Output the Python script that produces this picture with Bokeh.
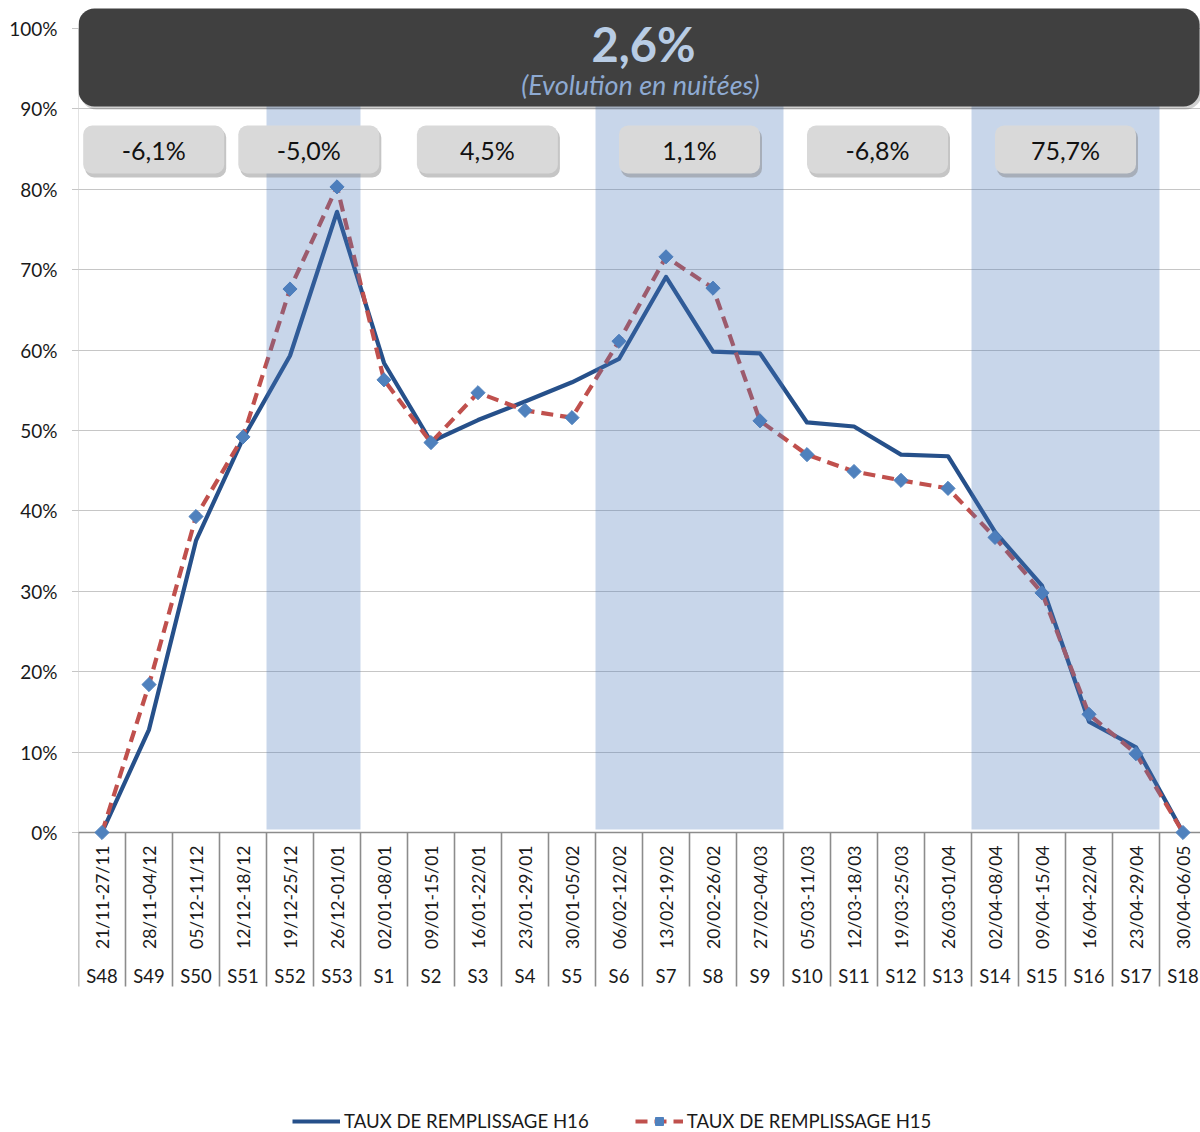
import numpy as np
from bokeh.plotting import figure
from bokeh.models import (ColumnDataSource, Range1d, FixedTicker, PrintfTickFormatter,
                          Legend, LegendItem)
from bokeh.core.properties import value
from bokeh.embed import file_html
from bokeh.resources import INLINE

# ---------------- data ----------------
weeks = ["S48", "S49", "S50", "S51", "S52", "S53", "S1", "S2", "S3", "S4", "S5", "S6",
         "S7", "S8", "S9", "S10", "S11", "S12", "S13", "S14", "S15", "S16", "S17", "S18"]
dates = ["21/11-27/11", "28/11-04/12", "05/12-11/12", "12/12-18/12", "19/12-25/12",
         "26/12-01/01", "02/01-08/01", "09/01-15/01", "16/01-22/01", "23/01-29/01",
         "30/01-05/02", "06/02-12/02", "13/02-19/02", "20/02-26/02", "27/02-04/03",
         "05/03-11/03", "12/03-18/03", "19/03-25/03", "26/03-01/04", "02/04-08/04",
         "09/04-15/04", "16/04-22/04", "23/04-29/04", "30/04-06/05"]
h16 = [0, 12.8, 36.3, 49.0, 59.3, 77.2, 58.4, 48.6, 51.3, 53.6, 56.0, 58.9,
       69.1, 59.8, 59.6, 51.0, 50.5, 47.0, 46.8, 37.4, 30.7, 13.8, 10.6, 0]
h15 = [0, 18.4, 39.3, 49.2, 67.6, 80.3, 56.3, 48.5, 54.7, 52.5, 51.6, 61.1,
       71.6, 67.7, 51.2, 47.0, 44.9, 43.8, 42.8, 36.7, 29.8, 14.7, 9.8, 0]
shaded_periods = [("S52", "S53"), ("S6", "S9"), ("S14", "S17")]
period_labels = ["-6,1%", "-5,0%", "4,5%", "1,1%", "-6,8%", "75,7%"]
total_label = "2,6%"
subtitle = "(Evolution en nuitées)"
y_ticks = [0, 10, 20, 30, 40, 50, 60, 70, 80, 90, 100]
series_names = ["TAUX DE REMPLISSAGE H16", "TAUX DE REMPLISSAGE H15"]

# ---------------- layout / style ----------------
W, H = 1200, 1132
LEFT = 78
PX_X = 47.0      # pixels per category
PX_Y = 8.04      # pixels per percent
Y0 = 832         # page y of 0%
FONT = "Lato"
box_centers = [1.6, 4.9, 8.7, 13.0, 17.0, 21.0]
box_width = 3.0


def py(page_y):
    return (Y0 - page_y) / PX_Y


def px(page_x):
    return (page_x - LEFT) / PX_X


x_end = (W - LEFT) / PX_X
y_top = py(0)
y_bot = py(H)

p = figure(width=W, height=H, output_backend="svg", toolbar_location=None,
           x_range=Range1d(0, x_end), y_range=Range1d(y_bot, y_top),
           x_axis_location=None, min_border_left=LEFT, min_border_right=0,
           min_border_top=0, min_border_bottom=0, outline_line_color=None,
           background_fill_color="white", border_fill_color="white")

# y axis & grid
ticker = FixedTicker(ticks=y_ticks)
yax = p.yaxis[0]
yax.ticker = ticker
yax.formatter = PrintfTickFormatter(format="%d%%")
yax.axis_line_color = None
yax.major_tick_in = 0
yax.major_tick_out = 6
yax.major_tick_line_color = "#8c8c8c"
yax.major_tick_line_dash = "1 1"
yax.minor_tick_line_color = None
yax.major_label_standoff = 15
yax.major_label_text_font = FONT
yax.major_label_text_font_size = "19px"
yax.major_label_text_color = "#1a1a1a"
p.ygrid.ticker = ticker
p.ygrid.grid_line_color = "#8c8c8c"
p.ygrid.grid_line_dash = "1 1"
p.ygrid.grid_line_width = 1
for g in p.xgrid:
    g.visible = False

n = len(weeks)
centers = [i + 0.5 for i in range(n)]
bounds = list(range(n + 1))

# left dotted axis, bottom axis and separators
p.segment(x0=[0], y0=[0], x1=[0], y1=[100], line_color="#8c8c8c", line_dash="1 1", line_width=1)
p.segment(x0=bounds, y0=[0] * len(bounds), x1=bounds, y1=[py(986)] * len(bounds),
          line_color="#8c8c8c", line_width=1.6)
p.segment(x0=[0], y0=[0], x1=[n], y1=[0], line_color="#8c8c8c", line_width=1.6)

# series
src = ColumnDataSource(dict(x=centers, h16=h16, h15=h15))
l16 = p.line("x", "h16", source=src, line_color="#26508a", line_width=4.2, line_join="round")
l15 = p.line("x", "h15", source=src, line_color="#c0504d", line_width=4.2, line_dash="12 7")
s15 = p.scatter("x", "h15", source=src, marker="square", size=10, angle=np.pi / 4,
                fill_color="#4f81bd", line_color="#4f81bd")

# shaded periods (translucent overlay)
b_left = [weeks.index(a) for a, b in shaded_periods]
b_right = [weeks.index(b) + 1 for a, b in shaded_periods]
p.quad(left=b_left, right=b_right, bottom=py(829), top=100,
       fill_color="#4876b9", fill_alpha=0.3, line_color=None)

# x labels
p.text(x=centers, y=[py(845)] * n, text=dates, angle=np.pi / 2,
       text_align="right", text_baseline="middle", text_font=value(FONT),
       text_font_size="17.5px", text_color="#1a1a1a")
p.text(x=centers, y=[py(975)] * n, text=weeks, text_align="center",
       text_baseline="middle", text_font=value(FONT), text_font_size="18.5px",
       text_color="#1a1a1a")

# title box
dxp, dyp = 1 / PX_X, 1 / PX_Y
p.quad(left=[0 + 2 * dxp], right=[px(1199) + 2 * dxp], top=[py(8) - 3 * dyp], bottom=[py(106) - 3 * dyp],
       fill_color="#000000", fill_alpha=0.18, line_color=None, border_radius=16)
p.quad(left=[0], right=[px(1199)], top=[py(8)], bottom=[py(106)],
       fill_color="#404040", line_color=None, border_radius=16)
p.text(x=[px(643)], y=[py(43)], text=[total_label], text_align="center", text_baseline="middle",
       text_font=value(FONT), text_font_style="bold", text_font_size="47px", text_color="#b8cce4")
p.text(x=[px(640)], y=[py(84)], text=[subtitle], text_align="center", text_baseline="middle",
       text_font=value(FONT), text_font_style="italic", text_font_size="27px", text_color="#8eaad2")

# period boxes
bl = [c - box_width / 2 for c in box_centers]
br = [c + box_width / 2 for c in box_centers]
p.quad(left=[v + 2 * dxp for v in bl], right=[v + 2 * dxp for v in br],
       top=py(128), bottom=py(177), fill_color="#7f7f7f", fill_alpha=0.45,
       line_color=None, border_radius=9)
p.quad(left=bl, right=br, top=py(125), bottom=py(173), fill_color="#d9d9d9",
       line_color=None, border_radius=9)
p.text(x=box_centers, y=[py(149)] * len(box_centers), text=period_labels,
       text_align="center", text_baseline="middle", text_font=value(FONT),
       text_font_size="25px", text_color="#111111")

# legend
legend = Legend(items=[LegendItem(label=series_names[0], renderers=[l16]),
                       LegendItem(label=series_names[1], renderers=[l15, s15])],
                location=(214, 0), orientation="horizontal", glyph_width=48,
                glyph_height=20, label_height=20, label_standoff=4, spacing=46,
                padding=0, margin=0, border_line_alpha=0, background_fill_alpha=0,
                label_text_font=FONT, label_text_font_size="18.6px",
                label_text_color="#1a1a1a")
p.add_layout(legend)

open("out.html", "w").write(file_html(p, INLINE))
